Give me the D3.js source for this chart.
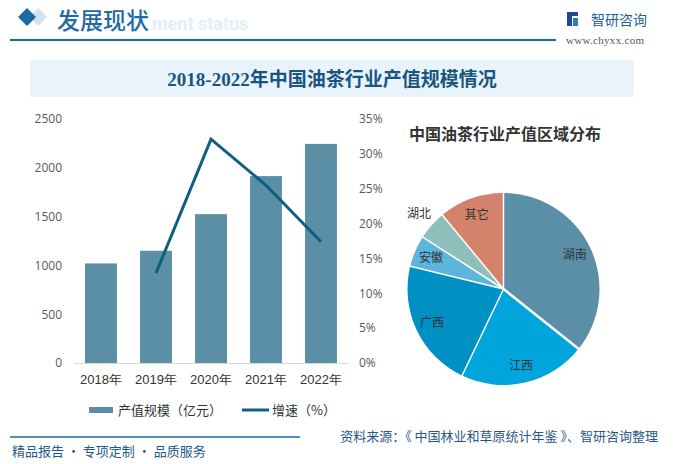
<!DOCTYPE html>
<html><head><meta charset="utf-8">
<script src="https://cdn.jsdelivr.net/npm/d3@7"></script>
<style>
html,body{margin:0;padding:0;background:#fff;}
svg{display:block;font-family:"Noto Sans CJK SC","Microsoft YaHei",sans-serif;}
</style></head>
<body>
<svg id="c" width="673" height="464"></svg>
<script>
const years = ["2018年","2019年","2020年","2021年","2022年"];
const outputValue = [1020, 1150, 1525, 1915, 2245];
const growthRate = [null, 12.9, 32.1, 25.5, 17.4];
const leftTicks = [0, 500, 1000, 1500, 2000, 2500];
const rightTicks = [0, 5, 10, 15, 20, 25, 30, 35];
const regions = ["湖南","江西","广西","安徽","湖北","其它"];
const regionShare = [35.7, 21.4, 21.7, 5.3, 4.9, 11.0];
const regionColors = ["#5b8fa8","#00a5dc","#0090c4","#5cb5dc","#8fbfbb","#d4826b"];

const svg = d3.select("#c");
svg.append("rect").attr("width",673).attr("height",464).attr("fill","#fff");

// header
svg.append("path").attr("d","M38,8 L47,17 L38,26 L29,17Z").attr("fill","#cfe3f1");
svg.append("path").attr("d","M27,8 L36,17 L27,26 L18,17Z").attr("fill","#1b6aa3");
svg.append("text").attr("x",152).attr("y",30).attr("font-family","Roboto, Arial, sans-serif")
  .attr("font-weight","bold").attr("font-size",18).attr("fill","#e2eef8").text("ment status");
svg.append("text").attr("x",57).attr("y",29).attr("font-size",23).attr("font-weight",500)
  .attr("fill","#1f6aa2").text("发展现状");
svg.append("line").attr("x1",10).attr("x2",556).attr("y1",40).attr("y2",40)
  .attr("stroke","#1a6aa0").attr("stroke-width",2);
// logo
const lg = svg.append("g").attr("fill","#24488e");
lg.append("rect").attr("x",567).attr("y",12).attr("width",5).attr("height",14);
lg.append("rect").attr("x",567).attr("y",12).attr("width",11).attr("height",4);
lg.append("rect").attr("x",573).attr("y",18).attr("width",5).attr("height",8).attr("fill","#2c7fc0");
svg.append("text").attr("x",591).attr("y",25).attr("font-size",14).attr("fill","#1f5f95").text("智研咨询");
svg.append("text").attr("x",566).attr("y",44).attr("font-size",11).attr("font-family","Liberation Serif, serif")
  .attr("fill","#555").attr("letter-spacing",0.3).text("www.chyxx.com");

// title band
svg.append("rect").attr("x",30).attr("y",60).attr("width",604).attr("height",37).attr("fill","#e8f3fb");
svg.append("text").attr("x",332).attr("y",86).attr("text-anchor","middle")
  .attr("font-family","'Liberation Serif','Noto Sans CJK SC',serif").attr("font-weight","bold")
  .attr("font-size",19).attr("fill","#1a5480").text("2018-2022年中国油茶行业产值规模情况");

// bar chart
const x = d3.scaleBand().domain(years).range([73.5,348.5]).paddingInner(0.42).paddingOuter(0.21);
const yL = d3.scaleLinear().domain([0,2500]).range([363,119]);
const yR = d3.scaleLinear().domain([0,35]).range([363,119]);

const axL = svg.append("g").attr("transform","translate(73,0)")
  .call(d3.axisLeft(yL).tickValues(leftTicks).tickFormat(d3.format("d")).tickSize(0).tickPadding(11));
axL.select(".domain").remove();
axL.selectAll("text").attr("font-size",12).attr("fill","#595959").attr("font-family","'Open Sans','Noto Sans',sans-serif");

const axR = svg.append("g").attr("transform","translate(348,0)")
  .call(d3.axisRight(yR).tickValues(rightTicks).tickFormat(d=>d+"%").tickSize(0).tickPadding(11));
axR.select(".domain").remove();
axR.selectAll("text").attr("font-size",12).attr("fill","#595959").attr("font-family","'Open Sans','Noto Sans',sans-serif");

svg.append("g").selectAll("rect").data(years).join("rect")
  .attr("x",d=>x(d)).attr("width",x.bandwidth())
  .attr("y",(d,i)=>yL(outputValue[i])).attr("height",(d,i)=>363-yL(outputValue[i]))
  .attr("fill","#5b8fa6");

const axB = svg.append("g").attr("transform","translate(0,363)")
  .call(d3.axisBottom(x).tickSize(0).tickPadding(12));
axB.select(".domain").attr("stroke","#d9d9d9");
axB.selectAll("text").attr("font-size",13).attr("fill","#333");

const lineData = years.map((d,i)=>({d,v:growthRate[i]})).filter(p=>p.v!==null);
svg.append("path").datum(lineData)
  .attr("d", d3.line().x(p=>x(p.d)+x.bandwidth()/2).y(p=>yR(p.v)))
  .attr("fill","none").attr("stroke","#0d5f80").attr("stroke-width",3).attr("stroke-linejoin","miter");

// legend
svg.append("rect").attr("x",89).attr("y",407).attr("width",24).attr("height",6).attr("fill","#5b8fa6");
svg.append("text").attr("x",118).attr("y",415).attr("font-size",13).attr("fill","#333").text("产值规模（亿元）");
svg.append("line").attr("x1",242).attr("x2",269).attr("y1",410).attr("y2",410).attr("stroke","#0d5f80").attr("stroke-width",3);
svg.append("text").attr("x",272).attr("y",415).attr("font-size",13).attr("fill","#333").text("增速（%）");

// pie
const cx = 503.5, cy = 289, R = 96;
svg.append("text").attr("x",505).attr("y",140).attr("text-anchor","middle").attr("font-size",16)
  .attr("font-weight","bold").attr("fill","#333").text("中国油茶行业产值区域分布");
const pie = d3.pie().sort(null).value(d=>d)(regionShare);
const arc = d3.arc().innerRadius(0).outerRadius(R);
const pg = svg.append("g").attr("transform",`translate(${cx},${cy})`);
pg.selectAll("path.slice").data(pie).join("path").attr("class","slice").attr("d",arc)
  .attr("fill",(d,i)=>regionColors[i]).attr("stroke","none");
pg.selectAll("line.sep").data(pie).join("line").attr("class","sep")
  .attr("x1",0).attr("y1",0)
  .attr("x2",d=>(R+1)*Math.sin(d.startAngle)).attr("y2",d=>-(R+1)*Math.cos(d.startAngle))
  .attr("stroke","#ffffff").attr("stroke-width",(d,i)=>i===1?2.5:1.5);
pg.selectAll("text").data(pie).join("text")
  .attr("transform",(d,i)=>{
    const r = regions[i]==="湖北" ? 113 : 79;
    const c = d3.arc().innerRadius(r).outerRadius(r).centroid(d);
    return `translate(${c[0]},${c[1]})`;
  })
  .attr("text-anchor","middle").attr("dy","0.35em").attr("font-size",12).attr("fill","#333")
  .text((d,i)=>regions[i]);

// footer
svg.append("line").attr("x1",10).attr("x2",300).attr("y1",437).attr("y2",437).attr("stroke","#1a6aa0").attr("stroke-width",1.5);
svg.append("text").attr("x",12).attr("y",456).attr("font-size",13).attr("fill","#1f5a8a").text("精品报告 · 专项定制 · 品质服务");
svg.append("text").attr("x",658).attr("y",441).attr("text-anchor","end").attr("font-size",13).attr("fill","#1f5a8a")
  .text("资料来源：《 中国林业和草原统计年鉴 》、智研咨询整理");
</script>
</body></html>
